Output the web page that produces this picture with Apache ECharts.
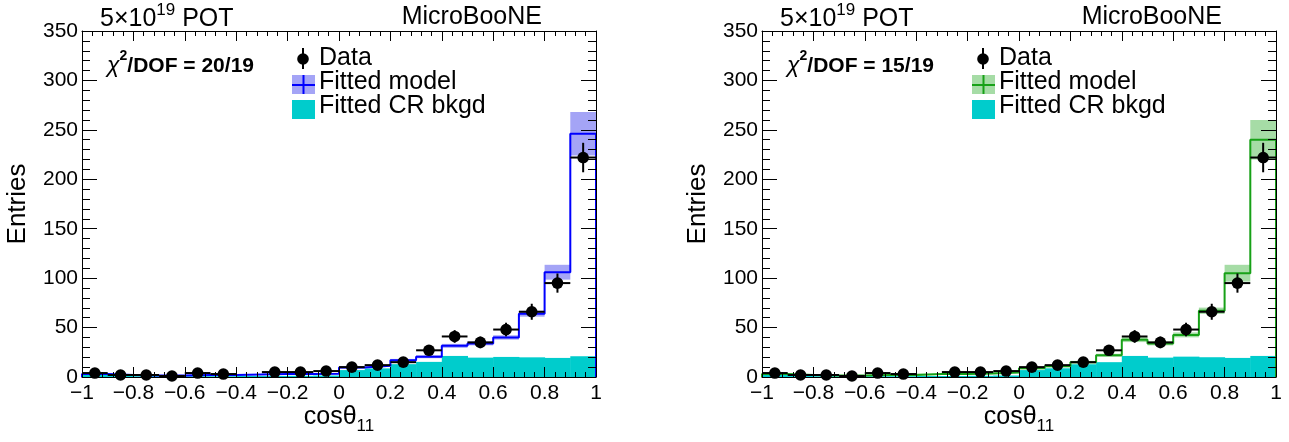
<!DOCTYPE html>
<html><head><meta charset="utf-8">
<script src="https://cdn.jsdelivr.net/npm/echarts@6/dist/echarts.min.js"></script>
<style>html,body{margin:0;padding:0;background:#fff}#c{width:1289px;height:442px}</style>
</head><body><div id="c"></div>
<script>
// ---- data ----
const binLow = [-1.0,-0.9,-0.8,-0.7,-0.6,-0.5,-0.4,-0.3,-0.2,-0.1,0.0,0.1,0.2,0.3,0.4,0.5,0.6,0.7,0.8,0.9];
const binWidth = 0.1;
const dataCounts = [4,2,2,1,4,3,null,5,5,6,10,12,15,27,41,35,48,66,95,222];
const dataErr    = [2,1.4,1.4,1,2,1.7,null,2.2,2.2,2.4,3.2,3.5,3.9,5.2,6.4,5.9,6.9,8.1,9.7,14.9];
const modelLeft    = [3,2,1.5,1.5,2,2,2.5,3,3,3.4,9.5,11.5,17,20.5,31.5,34,40,64,106,246];
const modelLeftErr = [0.5,0.4,0.3,0.3,0.4,0.4,0.5,0.5,0.5,0.5,1,1,1.3,1.5,2,2,2.2,3,7.5,22];
const modelRight    = [3,2,1.5,1.5,2,2,3,3,3.5,4.5,8.8,11,15,22,37.8,34,42.6,67,105,240];
const modelRightErr = [0.5,0.4,0.3,0.3,0.4,0.4,0.5,0.5,0.5,0.6,1,1,1.3,1.5,2.5,2,2.5,3.2,8.5,20];
const crLeft  = [2.5,1,0.8,0.8,0.8,0.8,1,1,1.2,1.5,7,8.7,13,15.3,21.3,19.6,20.3,19.9,19.3,21];
const crRight = [2.5,1,0.8,0.8,0.8,0.8,1,1,1.2,1.5,7,8.8,12.9,15,21.3,19.6,20.6,20,19.3,21.3];
const chiLabels = ['20/19','15/19'];
const xTickLabels = ['−1','−0.8','−0.6','−0.4','−0.2','0','0.2','0.4','0.6','0.8','1'];
const yTicks = [0,50,100,150,200,250,300,350];

// ---- layout / styling ----
const FONT = 'Liberation Sans, Arial, Helvetica, sans-serif';
const panels = [
  {ox:0,   line:'#0000ff', band:'#a4a4f6', model:modelLeft,  err:modelLeftErr,  cr:crLeft},
  {ox:680, line:'#17a117', band:'#a6dca6', model:modelRight, err:modelRightErr, cr:crRight}
];
const CYAN = '#00cccc';
const gridLeft = 82, gridTop = 31, gridW = 514, gridH = 346;

const grid = [], xAxis = [], yAxis = [], series = [], graphic = [];
function xFmt(v){ const i = Math.round((v+1)/0.2); return xTickLabels[i] !== undefined ? xTickLabels[i] : ''; }

panels.forEach((p, g) => {
  grid.push({left: gridLeft + p.ox, top: gridTop, width: gridW, height: gridH, containLabel:false});
  const common = {type:'value', gridIndex:g, min:-1, max:1, interval:0.2, z:10,
    axisLine:{show:true, onZero:false, lineStyle:{color:'#000', width:1}},
    splitLine:{show:false}};
  xAxis.push(Object.assign({}, common, {position:'bottom',
    axisTick:{show:true, inside:true, length:10, lineStyle:{color:'#000'}},
    minorTick:{show:true, splitNumber:5, length:5, lineStyle:{color:'#000'}},
    axisLabel:{show:true, margin:6, fontSize:21, color:'#000', fontFamily:FONT, formatter:xFmt, showMinLabel:true, showMaxLabel:true}}));
  xAxis.push(Object.assign({}, common, {position:'top',
    axisTick:{show:true, inside:true, length:10, lineStyle:{color:'#000'}},
    minorTick:{show:true, splitNumber:5, length:5, lineStyle:{color:'#000'}},
    axisLabel:{show:false}}));
  const ycommon = {type:'value', gridIndex:g, min:yTicks[0], max:yTicks[yTicks.length-1], interval:50, z:10,
    axisLine:{show:true, onZero:false, lineStyle:{color:'#000', width:1}},
    splitLine:{show:false},
    axisTick:{show:true, inside:true, length:15, lineStyle:{color:'#000'}},
    minorTick:{show:true, splitNumber:5, length:8, lineStyle:{color:'#000'}}};
  yAxis.push(Object.assign({}, ycommon, {position:'left',
    axisLabel:{show:true, margin:4, fontSize:21, color:'#000', fontFamily:FONT, showMinLabel:true, showMaxLabel:true}}));
  yAxis.push(Object.assign({}, ycommon, {position:'right', axisLabel:{show:false}}));

  const xi = g*2, yi = g*2;
  // CR background (filled histogram)
  series.push({type:'custom', xAxisIndex:xi, yAxisIndex:yi, z:2, clip:true,
    encode:{x:[0,1], y:2},
    data: binLow.map((b,i)=>[b, b+binWidth, p.cr[i]]),
    renderItem(params, api){
      const a = api.coord([api.value(0), api.value(2)]);
      const b = api.coord([api.value(1), 0]);
      return {type:'rect', shape:{x:a[0], y:a[1], width:b[0]-a[0]+0.5, height:b[1]-a[1]}, style:{fill:CYAN}};
    }});
  // model uncertainty band
  series.push({type:'custom', xAxisIndex:xi, yAxisIndex:yi, z:3, clip:true,
    encode:{x:[0,1], y:[2,3]},
    data: binLow.map((b,i)=>[b, b+binWidth, p.model[i]-p.err[i], p.model[i]+p.err[i]]),
    renderItem(params, api){
      const a = api.coord([api.value(0), api.value(3)]);
      const b = api.coord([api.value(1), api.value(2)]);
      return {type:'rect', shape:{x:a[0], y:a[1], width:b[0]-a[0], height:b[1]-a[1]}, style:{fill:p.band}};
    }});
  // model step line
  const pts = [[-1,0]];
  binLow.forEach((b,i)=>pts.push([b, p.model[i]]));
  pts.push([1, p.model[p.model.length-1]]);
  pts.push([1, 0]);
  series.push({type:'line', xAxisIndex:xi, yAxisIndex:yi, z:4, step:'end', data:pts,
    symbol:'none', lineStyle:{color:p.line, width:2}, animation:false});
  // data points
  const dp = [];
  binLow.forEach((b,i)=>{ if(dataCounts[i]!==null) dp.push([b+binWidth/2, dataCounts[i], dataErr[i]]); });
  series.push({type:'custom', xAxisIndex:xi, yAxisIndex:yi, z:5, clip:false,
    encode:{x:0, y:1}, data: dp,
    renderItem(params, api){
      const x = api.value(0), v = api.value(1), e = api.value(2);
      const c = api.coord([x, v]);
      const l = api.coord([x-binWidth/2, v]), r = api.coord([x+binWidth/2, v]);
      const t = api.coord([x, v+e]), bt = api.coord([x, Math.max(0, v-e)]);
      return {type:'group', children:[
        {type:'line', shape:{x1:l[0], y1:l[1], x2:r[0], y2:r[1]}, style:{stroke:'#000', lineWidth:2}},
        {type:'line', shape:{x1:t[0], y1:t[1], x2:bt[0], y2:bt[1]}, style:{stroke:'#000', lineWidth:2}},
        {type:'circle', shape:{cx:c[0], cy:c[1], r:5.8}, style:{fill:'#000'}}
      ]};
    }});

  const ox = p.ox;
  // header texts
  graphic.push({type:'text', left: 100 + ox, top: 2, style:{
    text:'{b|5×10}{s|19}{b| POT}', fontFamily:FONT, fill:'#000',
    rich:{b:{fontSize:25, lineHeight:30, fontFamily:FONT, fill:'#000', verticalAlign:'bottom'},
          s:{fontSize:17, lineHeight:17, fontFamily:FONT, fill:'#000', verticalAlign:'top'}}}});
  graphic.push({type:'text', x: 542 + ox, y: 17, style:{
    text:'MicroBooNE', fontSize:25, fontFamily:FONT, fill:'#000', align:'right', verticalAlign:'middle'}});
  // chi2 label
  graphic.push({type:'text', left: 107 + ox, top: 49, style:{
    text:'{c|χ}{s|2}{b|/DOF = ' + chiLabels[g] + '}', fill:'#000',
    rich:{c:{fontSize:23, lineHeight:28, fontFamily:FONT, fontStyle:'italic', fill:'#000', verticalAlign:'bottom'},
          s:{fontSize:14, lineHeight:14, fontFamily:FONT, fontWeight:'bold', fill:'#000', verticalAlign:'top'},
          b:{fontSize:21, lineHeight:28, fontFamily:FONT, fontWeight:'bold', fill:'#000', verticalAlign:'bottom'}}}});
  // legend
  graphic.push({type:'line', shape:{x1:303+ox, y1:48, x2:303+ox, y2:69}, style:{stroke:'#000', lineWidth:2}});
  graphic.push({type:'circle', shape:{cx:303+ox, cy:59, r:5.8}, style:{fill:'#000'}});
  graphic.push({type:'text', x:319+ox, y:58, style:{text:'Data', fontSize:25, fontFamily:FONT, fill:'#000', verticalAlign:'middle'}});
  graphic.push({type:'rect', shape:{x:292+ox, y:75, width:23, height:19}, style:{fill:p.band}});
  graphic.push({type:'line', shape:{x1:292+ox, y1:85, x2:315+ox, y2:85}, style:{stroke:p.line, lineWidth:2}});
  graphic.push({type:'line', shape:{x1:303.5+ox, y1:75, x2:303.5+ox, y2:94}, style:{stroke:p.line, lineWidth:2}});
  graphic.push({type:'text', x:319+ox, y:82, style:{text:'Fitted model', fontSize:25, fontFamily:FONT, fill:'#000', verticalAlign:'middle'}});
  graphic.push({type:'rect', shape:{x:292+ox, y:100, width:23, height:19}, style:{fill:CYAN}});
  graphic.push({type:'text', x:319+ox, y:106, style:{text:'Fitted CR bkgd', fontSize:25, fontFamily:FONT, fill:'#000', verticalAlign:'middle'}});
  // axis titles
  graphic.push({type:'text', x:18+ox, y:gridTop+gridH/2, rotation:Math.PI/2, style:{
    text:'Entries', fontSize:26, fontFamily:FONT, fill:'#000', align:'center', verticalAlign:'middle'}});
  graphic.push({type:'text', x:gridLeft+gridW/2+ox, y:420, style:{
    text:'{b|cosθ}{s|11}', align:'center', verticalAlign:'middle', fill:'#000',
    rich:{b:{fontSize:25, lineHeight:30, fontFamily:FONT, fill:'#000', verticalAlign:'top'},
          s:{fontSize:17, lineHeight:17, fontFamily:FONT, fill:'#000', verticalAlign:'bottom'}}}});
});

const chart = echarts.init(document.getElementById('c'), null, {renderer:'canvas'});
chart.setOption({animation:false, backgroundColor:'#fff', grid, xAxis, yAxis, series, graphic});
</script>
</body></html>
